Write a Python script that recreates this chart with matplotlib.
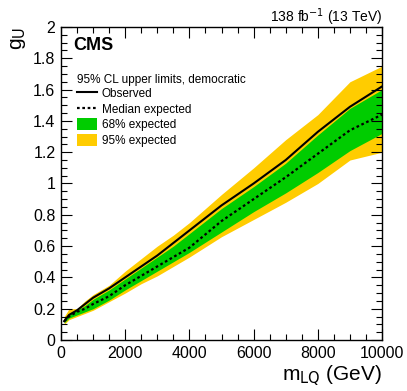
import matplotlib
matplotlib.use('Agg')
import matplotlib.pyplot as plt
from matplotlib.ticker import MultipleLocator, FuncFormatter
from matplotlib.patches import Patch
from matplotlib.lines import Line2D

plt.rcParams['font.family'] = ['Liberation Sans', 'DejaVu Sans']

mass = [100, 250, 500, 750, 1000, 1500, 2000, 2500, 3000, 3500, 4000,
        5000, 6000, 7000, 8000, 9000, 10000]
observed = [0.12, 0.16, 0.19, 0.23, 0.27, 0.33, 0.40, 0.47, 0.54, 0.62, 0.70,
            0.86, 1.00, 1.15, 1.33, 1.49, 1.62]
expected = [0.12, 0.15, 0.18, 0.20, 0.23, 0.28, 0.35, 0.41, 0.47, 0.53, 0.59,
            0.76, 0.90, 1.04, 1.19, 1.34, 1.44]
exp68_up = [0.14, 0.17, 0.19, 0.22, 0.26, 0.32, 0.39, 0.46, 0.53, 0.60, 0.68,
            0.84, 0.98, 1.13, 1.31, 1.48, 1.60]
exp68_dn = [0.11, 0.14, 0.16, 0.18, 0.20, 0.255, 0.32, 0.38, 0.44, 0.50, 0.56,
            0.69, 0.82, 0.94, 1.07, 1.21, 1.32]
exp95_up = [0.15, 0.20, 0.20, 0.25, 0.29, 0.35, 0.44, 0.52, 0.60, 0.67, 0.75,
            0.93, 1.10, 1.28, 1.44, 1.65, 1.75]
exp95_dn = [0.10, 0.13, 0.15, 0.17, 0.19, 0.245, 0.30, 0.36, 0.41, 0.47, 0.53,
            0.66, 0.77, 0.88, 1.00, 1.15, 1.20]

yellow = '#FFCC00'
green = '#00CC00'

fig = plt.figure(figsize=(4.07, 3.91), dpi=100)
ax = fig.add_axes([61 / 407, 1 - 340 / 391, 321 / 407, 313 / 391])

ax.fill_between(mass, exp95_dn, exp95_up, color=yellow, linewidth=0)
ax.fill_between(mass, exp68_dn, exp68_up, color=green, linewidth=0)
ax.plot(mass, expected, color='black', linestyle=(0, (1.2, 1.2)), linewidth=1.6)
ax.plot(mass, observed, color='black', linewidth=1.5)

ax.set_xlim(0, 10000)
ax.set_ylim(0, 2)
ax.xaxis.set_major_locator(MultipleLocator(2000))
ax.xaxis.set_minor_locator(MultipleLocator(500))
ax.yaxis.set_major_locator(MultipleLocator(0.2))
ax.yaxis.set_minor_locator(MultipleLocator(0.05))
ax.yaxis.set_major_formatter(FuncFormatter(lambda v, p: f'{v:g}'))
ax.tick_params(which='both', direction='in', top=True, right=True,
               labelsize=11.5, width=0.8)
ax.tick_params(which='major', length=8, pad=4)
ax.tick_params(which='minor', length=4)
for s in ax.spines.values():
    s.set_linewidth(1.0)

ax.set_xlabel(r'm$_{\mathrm{LQ}}$ (GeV)', fontsize=15, loc='right', labelpad=2)
ax.set_ylabel(r'g$_{\mathrm{U}}$', fontsize=15, loc='top', labelpad=4)

fig.text(73 / 407, 1 - 45 / 391, 'CMS', fontsize=13, fontweight='bold',
         va='center', ha='left')
fig.text(382 / 407, 1 - 17 / 391, r'138 fb$^{\mathrm{-1}}$ (13 TeV)', fontsize=10,
         va='center', ha='right')

handles = [Line2D([], [], color='black', linewidth=1.5),
           Line2D([], [], color='black', linestyle=(0, (1.2, 1.2)), linewidth=1.6),
           Patch(facecolor=green, edgecolor='none'),
           Patch(facecolor=yellow, edgecolor='none')]
labels = ['Observed', 'Median expected', '68% expected', '95% expected']
leg = ax.legend(handles, labels, title='95% CL upper limits, democratic',
                loc='upper left', bbox_to_anchor=(11 / 321, 1 - 42 / 313),
                frameon=False, fontsize=8.5, title_fontsize=8.5,
                handlelength=1.7, handleheight=1.2, handletextpad=0.4,
                labelspacing=0.22, borderaxespad=0)
leg._legend_box.align = 'left'
leg._legend_box.sep = 1

fig.savefig('out.png', dpi=100)
